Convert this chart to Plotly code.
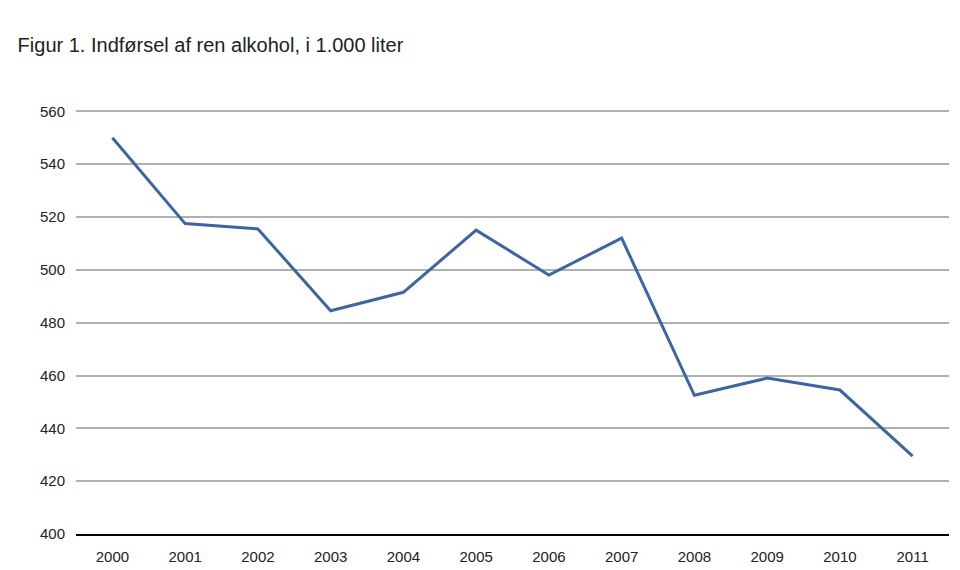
import plotly.graph_objects as go

years = ['2000', '2001', '2002', '2003', '2004', '2005',
         '2006', '2007', '2008', '2009', '2010', '2011']
liters = [550, 517.5, 515.5, 484.5, 491.5, 515, 498, 512, 452.5, 459, 454.5, 429.5]
y_ticks = [400, 420, 440, 460, 480, 500, 520, 540, 560]

fig = go.Figure(go.Scatter(x=years, y=liters, mode='lines',
                           line=dict(color='#3d66a1', width=3)))

fig.update_layout(
    width=960, height=570,
    margin=dict(l=68, r=19, t=102, b=44),
    paper_bgcolor='white', plot_bgcolor='white',
    font=dict(family='Liberation Sans', size=15, color='#222'),
    showlegend=False,
    title=dict(text='Figur 1. Indførsel af ren alkohol, i 1.000 liter',
               x=0.01, xanchor='left', y=0.935, yanchor='middle',
               font=dict(size=20, color='#222')),
)
fig.update_xaxes(type='category', range=[-0.5, 11.5], showgrid=False,
                 showline=True, linecolor='black', linewidth=2, ticks='',
                 ticklabelstandoff=8)
fig.update_yaxes(range=[400, 560.5], tickvals=y_ticks, showgrid=True,
                 gridcolor='#b0b0b0', gridwidth=1.5, zeroline=False, ticks='',
                 ticklabelstandoff=10)

fig.write_html("out.html")
